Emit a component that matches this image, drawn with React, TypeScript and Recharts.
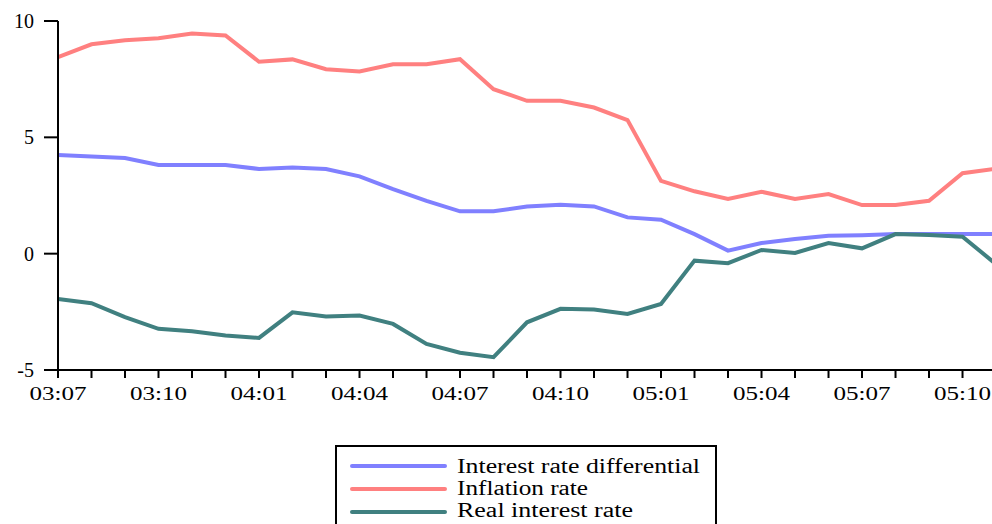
import { LineChart, Line, XAxis, YAxis } from "recharts";

const months = [
  "03:07", "03:08", "03:09", "03:10", "03:11", "03:12",
  "04:01", "04:02", "04:03", "04:04", "04:05", "04:06",
  "04:07", "04:08", "04:09", "04:10", "04:11", "04:12",
  "05:01", "05:02", "05:03", "05:04", "05:05", "05:06",
  "05:07", "05:08", "05:09", "05:10", "05:11",
];

const interestDiff = [
  4.24, 4.18, 4.11, 3.81, 3.81, 3.81, 3.64, 3.7, 3.64, 3.32,
  2.77, 2.27, 1.82, 1.82, 2.03, 2.1, 2.03, 1.56, 1.46, 0.84,
  0.13, 0.46, 0.63, 0.77, 0.79, 0.84, 0.84, 0.84, 0.84,
];

const inflation = [
  8.45, 9.0, 9.17, 9.26, 9.46, 9.38, 8.25, 8.35, 7.93, 7.83,
  8.14, 8.14, 8.36, 7.07, 6.57, 6.57, 6.28, 5.74, 3.13, 2.68,
  2.35, 2.66, 2.35, 2.56, 2.09, 2.09, 2.27, 3.46, 3.65,
];

const realRate = [
  -1.95, -2.13, -2.73, -3.23, -3.33, -3.52, -3.62, -2.52, -2.7, -2.66,
  -3.02, -3.88, -4.26, -4.45, -2.95, -2.37, -2.4, -2.59, -2.16, -0.3,
  -0.41, 0.16, 0.03, 0.46, 0.23, 0.84, 0.8, 0.73, -0.45,
];

const yTicks = [-5, 0, 5, 10];

const series = [
  { key: "diff", name: "Interest rate differential", color: "#8080ff", textLen: 243 },
  { key: "infl", name: "Inflation rate", color: "#ff8080", textLen: 131 },
  { key: "real", name: "Real interest rate", color: "#408080", textLen: 176 },
];

const data = months.map((m, i) => ({
  idx: i,
  month: m,
  diff: interestDiff[i],
  infl: inflation[i],
  real: realRate[i],
}));

const FONT = "'Liberation Serif', 'Times New Roman', serif";

function MonthTick({ x, y, payload }: any) {
  const i = payload.value as number;
  if (i % 3 !== 0) return <g />;
  return (
    <text
      x={x}
      y={y + 20}
      textAnchor="middle"
      fontFamily={FONT}
      fontSize={19}
      fill="#000"
      textLength={57}
      lengthAdjust="spacingAndGlyphs"
    >
      {months[i]}
    </text>
  );
}

function LegendBox() {
  return (
    <svg width={382} height={90} style={{ position: "absolute", left: 335, top: 445 }}>
      <rect x={1} y={1} width={380} height={110} fill="#fff" stroke="#000" strokeWidth={2} />
      {series.map((s, i) => (
        <g key={s.key}>
          <line
            x1={17}
            x2={110}
            y1={21 + i * 23}
            y2={21 + i * 23}
            stroke={s.color}
            strokeWidth={4}
            strokeLinecap="round"
          />
          <text
            x={122}
            y={28 + i * 22}
            fontFamily={FONT}
            fontSize={20}
            fill="#000"
            textLength={s.textLen}
            lengthAdjust="spacingAndGlyphs"
          >
            {s.name}
          </text>
        </g>
      ))}
    </svg>
  );
}

export default function App() {
  return (
    <div
      style={{
        position: "fixed",
        left: 0,
        top: 0,
        width: 992,
        height: 524,
        overflow: "hidden",
        background: "#fff",
      }}
    >
      <LineChart
        width={992}
        height={410}
        data={data}
        margin={{ top: 21, right: 0, bottom: 0, left: 0 }}
      >
        <XAxis
          type="number"
          dataKey="idx"
          domain={[0, 27.88]}
          allowDataOverflow
          ticks={months.slice(0, 28).map((_, i) => i)}
          interval={0}
          height={40}
          tickSize={8}
          tickMargin={2}
          tick={MonthTick}
          axisLine={{ stroke: "#000", strokeWidth: 2 }}
          tickLine={{ stroke: "#000", strokeWidth: 2 }}
        />
        <YAxis
          domain={[-5, 10]}
          ticks={yTicks}
          interval={0}
          width={58}
          tickSize={14}
          tickMargin={10}
          tick={{ fontSize: 20, fill: "#000", fontFamily: FONT }}
          axisLine={{ stroke: "#000", strokeWidth: 2 }}
          tickLine={{ stroke: "#000", strokeWidth: 2 }}
        />
        {series.map((s) => (
          <Line
            key={s.key}
            type="linear"
            dataKey={s.key}
            name={s.name}
            stroke={s.color}
            strokeWidth={4}
            dot={false}
            isAnimationActive={false}
          />
        ))}
      </LineChart>
      <LegendBox />
    </div>
  );
}
